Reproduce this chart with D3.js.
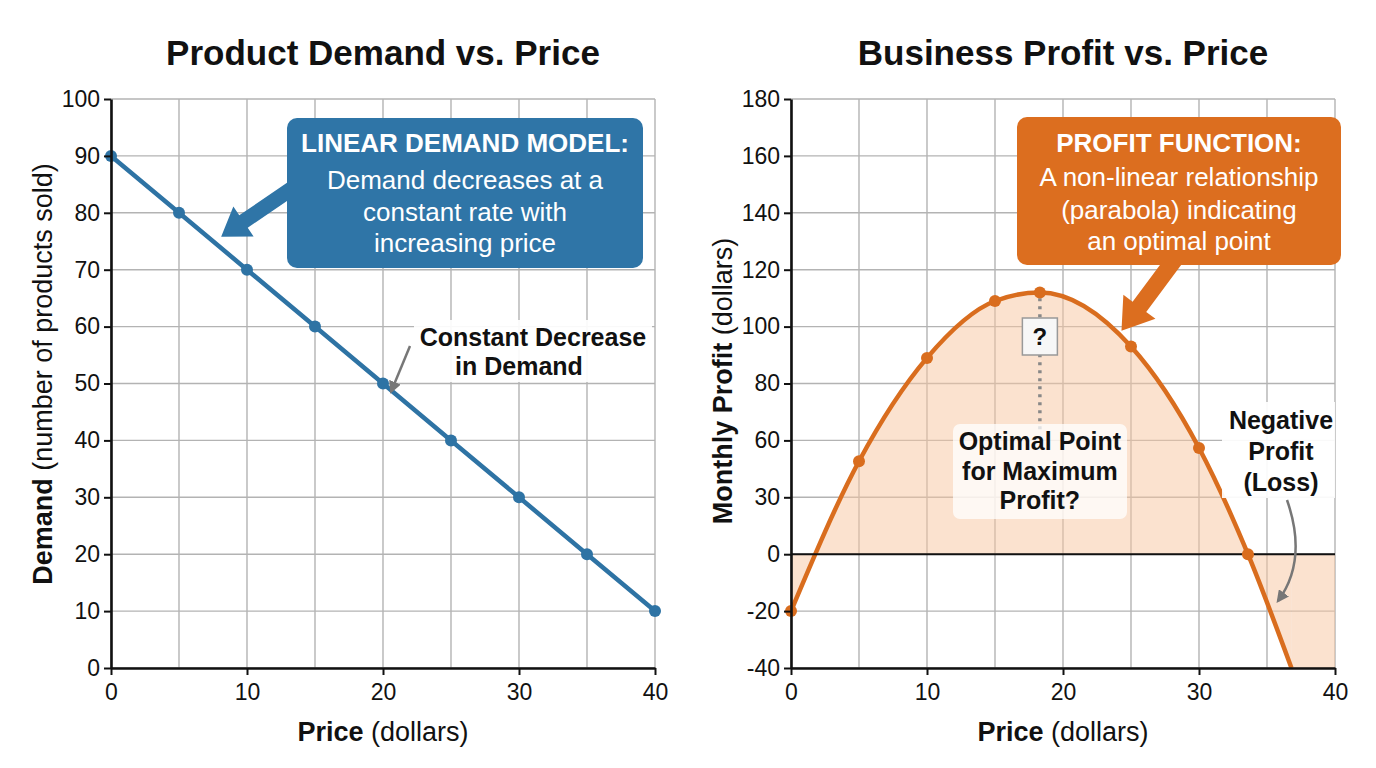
<!DOCTYPE html>
<html><head><meta charset="utf-8">
<script src="https://cdn.jsdelivr.net/npm/d3@7"></script>
<style>
body{margin:0;background:#fff}
svg text{font-family:"Liberation Sans",Arial,Helvetica,sans-serif}
</style>
</head><body>
<svg id="c" width="1376" height="768"></svg>
<script>
// ---------- data ----------
const price = [0,5,10,15,20,25,30,35,40];
const demand = [90,80,70,60,50,40,30,20,10];
const profitPrice = [0,5,10,15,18.3,25,30,33.6,36.8];
const profit = [-20,49,89,109,112,93,56,0,-40];
const xTickVals = [0,10,20,30,40];
const xGridVals = [0,5,10,15,20,25,30,35,40];
const demandTicks = [0,10,20,30,40,50,60,70,80,90,100];
const profitTicks = [180,160,140,120,100,80,60,30,0,-20,-40];
const profitDomain = [-40,0,60,180];
const optimalPrice = 18.3;

const BLUE = "#2e73a4", BLUEBOX = "#2f75a7";
const ORANGE = "#d96d1e", ORANGEBOX = "#dc6e1f";
const GRID = "#b3b3b3", INK = "#111";

const svg = d3.select("#c");

// ---------- scales ----------
const xL = d3.scaleLinear().domain([0,40]).range([111,655]);
const yL = d3.scaleLinear().domain([0,100]).range([668,99]);
const xR = d3.scaleLinear().domain([0,40]).range([791,1335]);
const yR = d3.scaleLinear().domain(profitDomain).range([668,554.2,440.4,99]);

function textParts(g, x, y, parts, size, anchor, fill, rotate){
  const t = g.append("text").attr("x",x).attr("y",y)
    .attr("text-anchor",anchor||"middle").attr("font-size",size).attr("fill",fill||INK);
  if(rotate) t.attr("transform",`rotate(${rotate},${x},${y})`);
  parts.forEach(p=>t.append("tspan").attr("font-weight",p[1]).text(p[0]));
  return t;
}

function panel(x, y, yTicks, title, yTitle, titleY, yTitleCenter){
  const g = svg.append("g");
  const [x0,x1] = x.range();
  const top = d3.min(y.range()), bottom = d3.max(y.range());
  // grid
  g.append("g").selectAll("line").data(xGridVals).join("line")
    .attr("x1",d=>x(d)).attr("x2",d=>x(d)).attr("y1",top).attr("y2",bottom)
    .attr("stroke",GRID).attr("stroke-width",1.4);
  g.append("g").selectAll("line").data(yTicks).join("line")
    .attr("x1",x0).attr("x2",x1).attr("y1",d=>y(d)).attr("y2",d=>y(d))
    .attr("stroke",GRID).attr("stroke-width",1.4);
  // title
  g.append("text").attr("x",(x0+x1)/2).attr("y",titleY).attr("text-anchor","middle")
    .attr("font-size",35).attr("font-weight","bold").attr("fill",INK).text(title);
  // x title
  textParts(g,(x0+x1)/2,741,[["Price","bold"],[" (dollars)","normal"]],27);
  // y title
  textParts(g,x0-59,yTitleCenter,yTitle,27,"middle",INK,-90);
  return {g, top, bottom, x0, x1};
}

function axes(p, x, y, yTicks){
  const ax = p.g.append("g").attr("transform",`translate(0,${p.bottom})`)
    .call(d3.axisBottom(x).tickValues(xTickVals).tickFormat(d=>String(d)).tickSize(7).tickSizeOuter(0).tickPadding(9));
  const ay = p.g.append("g").attr("transform",`translate(${p.x0},0)`)
    .call(d3.axisLeft(y).tickValues(yTicks).tickFormat(d=>String(d)).tickSize(7).tickSizeOuter(0).tickPadding(4));
  [ax,ay].forEach(a=>{
    a.select(".domain").attr("stroke",INK).attr("stroke-width",2.6);
    a.selectAll(".tick line").attr("stroke",INK).attr("stroke-width",2);
    a.selectAll(".tick text").attr("font-size",23).attr("fill",INK);
  });
}

function blockArrow(g, sx, sy, tx, ty, shaftW, headW, headL, fill){
  const dx=tx-sx, dy=ty-sy, L=Math.hypot(dx,dy);
  const ux=dx/L, uy=dy/L, nx=-uy, ny=ux;
  const cx=tx-ux*headL, cy=ty-uy*headL;
  const pts=[
    [sx+nx*shaftW/2, sy+ny*shaftW/2],
    [cx+nx*shaftW/2, cy+ny*shaftW/2],
    [cx+nx*headW/2, cy+ny*headW/2],
    [tx,ty],
    [cx-nx*headW/2, cy-ny*headW/2],
    [cx-nx*shaftW/2, cy-ny*shaftW/2],
    [sx-nx*shaftW/2, sy-ny*shaftW/2]
  ];
  g.append("polygon").attr("points",pts.map(p=>p.join(",")).join(" ")).attr("fill",fill);
}

// arrow marker
svg.append("defs").append("marker").attr("id","ah").attr("viewBox","0 0 10 10")
  .attr("refX",8).attr("refY",5).attr("markerWidth",5).attr("markerHeight",5)
  .attr("orient","auto").append("path").attr("d","M0,0 L10,5 L0,10 Z").attr("fill","#777");

// ---------- left panel ----------
const pL = panel(xL, yL, demandTicks, "Product Demand vs. Price",
  [["Demand","bold"],[" (number of products sold)","normal"]], 65, 374);

const demandData = price.map((p,i)=>({p, v:demand[i]}));
pL.g.append("path").datum(demandData)
  .attr("d", d3.line().x(d=>xL(d.p)).y(d=>yL(d.v)))
  .attr("fill","none").attr("stroke",BLUE).attr("stroke-width",4.5);
pL.g.append("g").selectAll("circle").data(demandData).join("circle")
  .attr("cx",d=>xL(d.p)).attr("cy",d=>yL(d.v)).attr("r",6).attr("fill",BLUE);
axes(pL, xL, yL, demandTicks);

// blue annotation box
const bl = pL.g.append("g");
blockArrow(bl, 300, 183, xL(8.1), yL(75.8), 15, 36, 27, BLUEBOX);
bl.append("rect").attr("x",287).attr("y",118).attr("width",356).attr("height",150)
  .attr("rx",10).attr("fill",BLUEBOX);
[["LINEAR DEMAND MODEL:","bold",152],["Demand decreases at a","normal",189],
 ["constant rate with","normal",221],["increasing price","normal",252]].forEach(l=>{
  bl.append("text").attr("x",465).attr("y",l[2]).attr("text-anchor","middle")
    .attr("font-size",26).attr("font-weight",l[1]).attr("fill","#fff").text(l[0]);
});

// Constant decrease callout
const cd = pL.g.append("g");
cd.append("rect").attr("x",414).attr("y",320).attr("width",238).attr("height",62).attr("fill","#fff").attr("opacity",0.92);
cd.append("text").attr("x",533).attr("y",346).attr("text-anchor","middle").attr("font-size",25)
  .attr("font-weight","bold").attr("fill",INK).text("Constant Decrease");
cd.append("text").attr("x",519).attr("y",375).attr("text-anchor","middle").attr("font-size",25)
  .attr("font-weight","bold").attr("fill",INK).text("in Demand");
cd.append("line").attr("x1",410).attr("y1",346).attr("x2",xL(20.6)).attr("y2",yL(48.6))
  .attr("stroke","#777").attr("stroke-width",2.5).attr("marker-end","url(#ah)");

// ---------- right panel ----------
const pR = panel(xR, yR, profitTicks, "Business Profit vs. Price",
  [["Monthly Profit","bold"],[" (dollars)","normal"]], 65, 381);

svg.append("defs").append("clipPath").attr("id","clipR").append("rect")
  .attr("x",pR.x0).attr("y",pR.top).attr("width",pR.x1-pR.x0).attr("height",pR.bottom-pR.top);

const profitData = profitPrice.map((p,i)=>({p, v:profit[i]}));
const clipG = pR.g.append("g").attr("clip-path","url(#clipR)");
const curve = d3.curveMonotoneX;
clipG.append("path").datum(profitData)
  .attr("d", d3.area().x(d=>xR(d.p)).y0(yR(0)).y1(d=>yR(d.v)).curve(curve))
  .attr("fill","#f7c6a0").attr("opacity",0.5);
const lastP = profitPrice[profitPrice.length-1];
clipG.append("rect").attr("x",xR(lastP)).attr("y",yR(0))
  .attr("width",xR(40)-xR(lastP)).attr("height",yR(-40)-yR(0))
  .attr("fill","#f7c6a0").attr("opacity",0.5);

// zero line
pR.g.append("line").attr("x1",pR.x0).attr("x2",pR.x1).attr("y1",yR(0)).attr("y2",yR(0))
  .attr("stroke",INK).attr("stroke-width",2);

// optimal dotted line
pR.g.append("line").attr("x1",xR(optimalPrice)).attr("x2",xR(optimalPrice))
  .attr("y1",yR(110)).attr("y2",yR(63))
  .attr("stroke","#888").attr("stroke-width",3.5).attr("stroke-dasharray","3,5");

clipG.append("path").datum(profitData)
  .attr("d", d3.line().x(d=>xR(d.p)).y(d=>yR(d.v)).curve(curve))
  .attr("fill","none").attr("stroke",ORANGE).attr("stroke-width",4.5);
pR.g.append("g").selectAll("circle").data(profitData.filter(d=>d.v>-40)).join("circle")
  .attr("cx",d=>xR(d.p)).attr("cy",d=>yR(d.v)).attr("r",6).attr("fill",ORANGE);
axes(pR, xR, yR, profitTicks);

// question box
const qx = xR(optimalPrice);
pR.g.append("rect").attr("x",qx-17.5).attr("y",318).attr("width",35).attr("height",37)
  .attr("fill","#f7f7f7").attr("stroke","#999").attr("stroke-width",1.5);
pR.g.append("text").attr("x",qx).attr("y",345).attr("text-anchor","middle").attr("font-size",24)
  .attr("font-weight","bold").attr("fill",INK).text("?");

// optimal point label
pR.g.append("rect").attr("x",953).attr("y",424).attr("width",174).attr("height",95).attr("rx",7)
  .attr("fill","#fff").attr("opacity",0.75);
[["Optimal Point",450],["for Maximum",480],["Profit?",509]].forEach(l=>{
  pR.g.append("text").attr("x",qx).attr("y",l[1]).attr("text-anchor","middle").attr("font-size",25)
    .attr("font-weight","bold").attr("fill",INK).text(l[0]);
});

// negative profit label
pR.g.append("rect").attr("x",1222).attr("y",402).attr("width",113).attr("height",96)
  .attr("fill","#fff").attr("opacity",0.92);
[["Negative",429],["Profit",460],["(Loss)",491]].forEach(l=>{
  pR.g.append("text").attr("x",1281).attr("y",l[1]).attr("text-anchor","middle").attr("font-size",25)
    .attr("font-weight","bold").attr("fill",INK).text(l[0]);
});
pR.g.append("path").attr("d",`M1287,500 Q1308,560 1278,601`)
  .attr("fill","none").attr("stroke","#777").attr("stroke-width",2.5).attr("marker-end","url(#ah)");

// orange annotation box
const ob = pR.g.append("g");
blockArrow(ob, 1178, 255, xR(24.3), yR(98.5), 17, 40, 30, ORANGEBOX);
ob.append("rect").attr("x",1017).attr("y",117).attr("width",324).attr("height",148)
  .attr("rx",10).attr("fill",ORANGEBOX);
[["PROFIT FUNCTION:","bold",152],["A non-linear relationship","normal",186],
 ["(parabola) indicating","normal",219],["an optimal point","normal",250]].forEach(l=>{
  ob.append("text").attr("x",1179).attr("y",l[2]).attr("text-anchor","middle")
    .attr("font-size",26).attr("font-weight",l[1]).attr("fill","#fff").text(l[0]);
});
</script>
</body></html>
